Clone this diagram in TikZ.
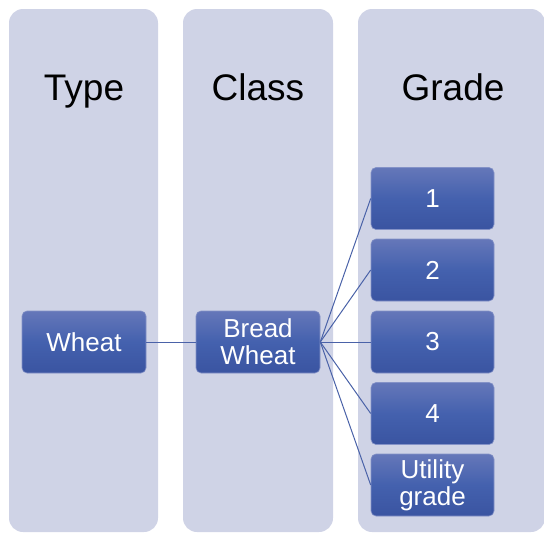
\documentclass[tikz,border=0pt]{standalone}
\usepackage{fontspec}
\setmainfont{Liberation Sans}
\definecolor{panel}{HTML}{CFD3E6}
\definecolor{boxtop}{HTML}{6577B9}
\definecolor{boxmid}{HTML}{4461AE}
\definecolor{boxbot}{HTML}{3A54A1}
\definecolor{link}{HTML}{4A62A8}
\tikzset{
  panelbox/.style={fill=panel, draw=none, rounded corners=14pt},
  title/.style={font=\fontsize{37}{40}\selectfont, text=black, anchor=base, inner sep=0pt},
  item/.style={draw=boxtop!80!white, line width=0.6pt, rounded corners=5pt,
    top color=boxtop, bottom color=boxbot, middle color=boxmid,
    minimum width=124pt, minimum height=62pt, inner sep=0pt,
    text=white, align=center, font=\fontsize{26}{27}\selectfont},
  link/.style={draw=link, line width=1pt}
}
\begin{document}
\begin{tikzpicture}[x=1pt,y=-1pt]
\useasboundingbox (0,0) rectangle (544,533);
\begin{scope}
\clip (0,0) rectangle (544,533);
% three background panels
\path[panelbox] (9,9) rectangle (158,532);
\path[panelbox] (183,9) rectangle (333,532);
\path[panelbox] (358,9) rectangle (545,532);
\end{scope}
% panel headings
\node[title] (ttype) at (84,100) {Type};
\node[title] (tclass) at (258,100) {Class};
\node[title] (tgrade) at (453,100) {Grade};
% hierarchy boxes
\node[item] (wheat) at (84,342) {Wheat};
\node[item] (bread) at (258,342) {Bread\\Wheat};
\node[item, minimum width=123pt] (g1) at (432.5,198.5) {1};
\node[item, minimum width=123pt] (g2) at (432.5,270) {2};
\node[item, minimum width=123pt] (g3) at (432.5,342) {3};
\node[item, minimum width=123pt] (g4) at (432.5,413.5) {4};
\node[item, minimum width=123pt] (g5) at (432.5,485) {Utility\\grade};
% connectors
\draw[link] (wheat.east) -- (bread.west);
\foreach \g in {g1,g2,g3,g4,g5}
  \draw[link] (bread.east) -- (\g.west);
\end{tikzpicture}
\end{document}
